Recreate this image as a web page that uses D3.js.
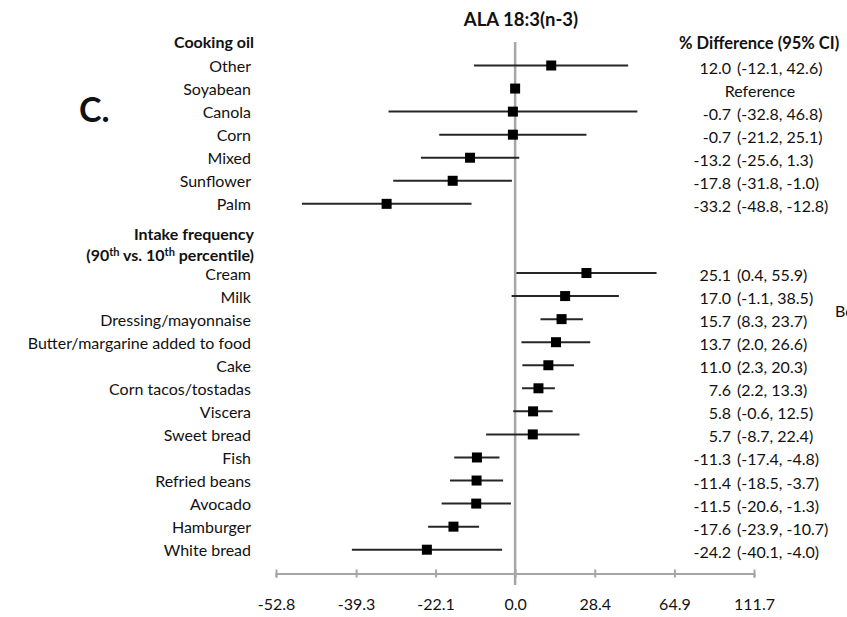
<!DOCTYPE html>
<html>
<head>
<meta charset="utf-8">
<script src="https://cdn.jsdelivr.net/npm/d3@7/dist/d3.min.js"></script>
<style>
  html, body { margin: 0; padding: 0; background: #fff; }
  svg { display: block; font-family: Lato, "Open Sans", sans-serif; }
</style>
</head>
<body>
<svg id="chart" width="847" height="617"></svg>
<script>
// ALA 18:3(n-3): % difference in ALA (95% CI) by cooking oil and food intake frequency
const cookingLabels = ["Other", "Soyabean", "Canola", "Corn", "Mixed", "Sunflower", "Palm"];
const cookingEst = [12.0, 0.0, -0.7, -0.7, -13.2, -17.8, -33.2];
const cookingLo  = [-12.1, null, -32.8, -21.2, -25.6, -31.8, -48.8];
const cookingHi  = [42.6, null, 46.8, 25.1, 1.3, -1.0, -12.8];

const intakeLabels = ["Cream", "Milk", "Dressing/mayonnaise", "Butter/margarine added to food", "Cake",
  "Corn tacos/tostadas", "Viscera", "Sweet bread", "Fish", "Refried beans", "Avocado", "Hamburger", "White bread"];
const intakeEst = [25.1, 17.0, 15.7, 13.7, 11.0, 7.6, 5.8, 5.7, -11.3, -11.4, -11.5, -17.6, -24.2];
const intakeLo  = [0.4, -1.1, 8.3, 2.0, 2.3, 2.2, -0.6, -8.7, -17.4, -18.5, -20.6, -23.9, -40.1];
const intakeHi  = [55.9, 38.5, 23.7, 26.6, 20.3, 13.3, 12.5, 22.4, -4.8, -3.7, -1.3, -10.7, -4.0];

const tickLabels = [-52.8, -39.3, -22.1, 0.0, 28.4, 64.9, 111.7];

// Rows: cooking oils occupy slots 0-6, intake foods slots 9-21
const rows = [];
cookingLabels.forEach((l, i) => rows.push({ label: l, est: cookingEst[i], lo: cookingLo[i], hi: cookingHi[i], slot: i }));
intakeLabels.forEach((l, i) => rows.push({ label: l, est: intakeEst[i], lo: intakeLo[i], hi: intakeHi[i], slot: 9 + i }));

const svg = d3.select("#chart");
// plain hyphen for negative numbers
const locale = d3.formatLocale({ decimal: ".", thousands: ",", grouping: [3], currency: ["", ""], minus: "-" });
const fmt = locale.format(".1f");

// Ratio scale on a log axis; percent p maps to ratio 1 + p/100
const xr = d3.scaleLog()
  .domain([1 + tickLabels[0] / 100, 1 + tickLabels[tickLabels.length - 1] / 100])
  .range([276, 754]);
const x = p => xr(1 + p / 100);
const y = d3.scaleLinear().domain([0, 21]).range([65.5, 549.7]);

const ink = "#111";
const gridGrey = "#a6a6a6";

// Reference line at 0% difference
svg.append("line")
  .attr("x1", x(0)).attr("x2", x(0))
  .attr("y1", 42).attr("y2", 585)
  .attr("stroke", gridGrey).attr("stroke-width", 2.5);

// Bottom axis
const axisY = 573.5;
const axis = d3.axisBottom(xr)
  .tickValues(tickLabels.map(p => 1 + p / 100))
  .tickFormat((d, i) => fmt(tickLabels[i]))
  .tickSizeOuter(0)
  .tickSize(4);
const gAxis = svg.append("g").attr("transform", `translate(0,${axisY})`).call(axis);
gAxis.select(".domain").attr("stroke", gridGrey).attr("stroke-width", 2);
gAxis.selectAll(".tick line").attr("y1", -4).attr("y2", 4)
  .attr("stroke", gridGrey).attr("stroke-width", 2);
gAxis.selectAll(".tick text")
  .attr("y", 36).attr("dy", 0)
  .attr("fill", ink)
  .style("font-family", "Lato, sans-serif")
  .style("font-size", "16px");

// Confidence intervals
svg.append("g").selectAll("line")
  .data(rows.filter(d => d.lo !== null))
  .join("line")
  .attr("x1", d => x(d.lo)).attr("x2", d => x(d.hi))
  .attr("y1", d => y(d.slot)).attr("y2", d => y(d.slot))
  .attr("stroke", "#262626").attr("stroke-width", 2);

// Point estimates
const ms = 10;
svg.append("g").selectAll("rect")
  .data(rows)
  .join("rect")
  .attr("x", d => x(d.est) - ms / 2)
  .attr("y", d => y(d.slot) - ms / 2)
  .attr("width", ms).attr("height", ms)
  .attr("fill", "#000");

// Row labels
svg.append("g").selectAll("text")
  .data(rows)
  .join("text")
  .attr("x", 251)
  .attr("y", d => y(d.slot) + 6.5)
  .attr("text-anchor", "end")
  .attr("fill", ink)
  .style("font-size", "16px")
  .text(d => d.label);

// Estimate and CI text
const vals = svg.append("g").style("font-size", "16px").attr("fill", ink);
vals.selectAll("text.est")
  .data(rows.filter(d => d.lo !== null))
  .join("text")
  .attr("class", "est")
  .attr("x", 731)
  .attr("y", d => y(d.slot) + 8)
  .attr("text-anchor", "end")
  .text(d => fmt(d.est));
vals.selectAll("text.ci")
  .data(rows.filter(d => d.lo !== null))
  .join("text")
  .attr("class", "ci")
  .attr("x", 737)
  .attr("y", d => y(d.slot) + 8)
  .text(d => `(${fmt(d.lo)}, ${fmt(d.hi)})`);
vals.selectAll("text.ref")
  .data(rows.filter(d => d.lo === null))
  .join("text")
  .attr("class", "ref")
  .attr("x", 760)
  .attr("y", d => y(d.slot) + 8)
  .attr("text-anchor", "middle")
  .text("Reference");

// Headers
svg.append("text")
  .attr("x", 521).attr("y", 26)
  .attr("text-anchor", "middle")
  .attr("fill", ink)
  .style("font-size", "18.5px").style("font-weight", 700)
  .text("ALA 18:3(n-3)");

svg.append("text")
  .attr("x", 679).attr("y", 49)
  .attr("fill", ink)
  .style("font-size", "16.5px").style("font-weight", 700)
  .text("% Difference (95% CI)");

svg.append("text")
  .attr("x", 254).attr("y", 48)
  .attr("text-anchor", "end")
  .attr("fill", ink)
  .style("font-size", "16px").style("font-weight", 700)
  .text("Cooking oil");

svg.append("text")
  .attr("x", 254).attr("y", 240)
  .attr("text-anchor", "end")
  .attr("fill", ink)
  .style("font-size", "16px").style("font-weight", 700)
  .text("Intake frequency");

const pct = svg.append("text")
  .attr("x", 254).attr("y", 261)
  .attr("text-anchor", "end")
  .attr("fill", ink)
  .style("font-size", "16px").style("font-weight", 700);
pct.append("tspan").text("(90");
pct.append("tspan").attr("dy", -5).style("font-size", "11px").text("th");
pct.append("tspan").attr("dy", 5).text(" vs. 10");
pct.append("tspan").attr("dy", -5).style("font-size", "11px").text("th");
pct.append("tspan").attr("dy", 5).text(" percentile)");

// Panel letter
svg.append("text")
  .attr("x", 79).attr("y", 122)
  .attr("fill", ink)
  .style("font-size", "34px").style("font-weight", 700)
  .text("C.");

// Edge of the neighbouring panel's label
svg.append("text")
  .attr("x", 835).attr("y", 317)
  .attr("fill", ink)
  .style("font-size", "16px")
  .text("Bo");
</script>
</body>
</html>
